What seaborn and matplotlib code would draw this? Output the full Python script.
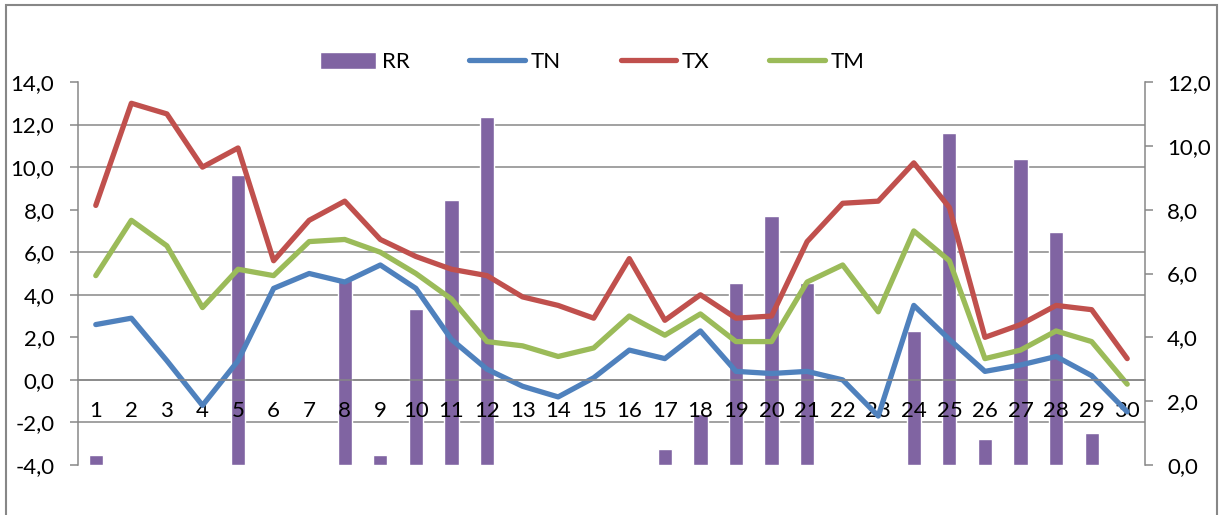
import numpy as np
import pandas as pd
import seaborn as sns
import matplotlib.pyplot as plt
from matplotlib.ticker import FuncFormatter, FixedLocator
from matplotlib.patches import Rectangle

# daily data
days = list(range(1, 31))
RR = [0.3, 0, 0, 0, 9.1, 0, 0, 5.8, 0.3, 4.9, 8.3, 10.9, 0, 0, 0,
      0, 0.5, 1.6, 5.7, 7.8, 5.7, 0, 0, 4.2, 10.4, 0.8, 9.6, 7.3, 1.0, 0]
TN = [2.6, 2.9, 0.9, -1.2, 0.9, 4.3, 5.0, 4.6, 5.4, 4.3, 1.9, 0.5, -0.3, -0.8, 0.1,
      1.4, 1.0, 2.3, 0.4, 0.3, 0.4, 0.0, -1.7, 3.5, 1.9, 0.4, 0.7, 1.1, 0.2, -1.5]
TX = [8.2, 13.0, 12.5, 10.0, 10.9, 5.6, 7.5, 8.4, 6.6, 5.8, 5.2, 4.9, 3.9, 3.5, 2.9,
      5.7, 2.8, 4.0, 2.9, 3.0, 6.5, 8.3, 8.4, 10.2, 8.1, 2.0, 2.6, 3.5, 3.3, 1.0]
TM = [4.9, 7.5, 6.3, 3.4, 5.2, 4.9, 6.5, 6.6, 6.0, 5.0, 3.8, 1.8, 1.6, 1.1, 1.5,
      3.0, 2.1, 3.1, 1.8, 1.8, 4.6, 5.4, 3.2, 7.0, 5.6, 1.0, 1.4, 2.3, 1.8, -0.2]

left_ticks = np.arange(-4, 15, 2)
right_ticks = np.arange(0, 13, 2)

df = pd.DataFrame({'day': days, 'RR': RR, 'TN': TN, 'TX': TX, 'TM': TM})

sns.set_style('white')
plt.rcParams['font.family'] = ['Lato', 'DejaVu Sans']
plt.rcParams['font.size'] = 16
plt.rcParams['text.color'] = 'black'

gray = '#878787'
fs = 16
fig = plt.figure(figsize=(12.19, 5.15), dpi=100)
ax = fig.add_axes([78/1219, 1-465/515, (1145-78)/1219, (465-82)/515])
ax2 = ax.twinx()
ax.set_zorder(2)
ax.patch.set_visible(False)
ax2.set_zorder(1)

# rain bars on right axis
sns.barplot(data=df, x='day', y='RR', ax=ax2, native_scale=True, width=0.4,
            color='#8064A2', saturation=1, label='RR', zorder=2)
ax2.set_ylim(0, 12)
ax2.set_yticks(right_ticks)
# gridlines at the left-axis ticks, drawn below the bars
ax2.yaxis.set_minor_locator(FixedLocator((left_ticks + 4) * 12 / 18))
ax2.tick_params(axis='y', which='minor', length=0)
ax2.grid(axis='y', which='minor', color=gray, lw=1.1)
ax2.set_axisbelow(True)

# temperature lines on left axis
for col, c in [('TN', '#4F81BD'), ('TX', '#C0504D'), ('TM', '#9BBB59')]:
    sns.lineplot(data=df, x='day', y=col, ax=ax, color=c, lw=3.8, label=col,
                 solid_capstyle='round')
ax.set_ylim(-4, 14)
ax.set_yticks(left_ticks)
ax.set_xlim(0.5, 30.5)
ax2.set_xlim(0.5, 30.5)

fmt = FuncFormatter(lambda v, p: f'{v:.1f}'.replace('.', ','))
ax.yaxis.set_major_formatter(fmt)
ax2.yaxis.set_major_formatter(fmt)

ax.set_xticks(days)
ax.set_xticklabels([str(d) for d in days])
ax.xaxis.set_minor_locator(FixedLocator(np.arange(1.5, 30.5, 1)))
ax.tick_params(axis='x', which='major', length=0, pad=15, labelsize=fs, labelcolor='black')
ax.tick_params(axis='x', which='minor', length=7, width=1.1, color=gray, direction='out')
ax.tick_params(axis='y', length=6, width=1.1, color=gray, direction='out', pad=11,
               labelsize=fs, labelcolor='black')
ax2.tick_params(axis='y', which='major', length=6, width=1.1, color=gray, direction='out',
                pad=10, labelsize=fs, labelcolor='black')
ax2.tick_params(axis='x', length=0, labelbottom=False)

ax.set_xlabel('')
ax.set_ylabel('')
ax2.set_xlabel('')
ax2.set_ylabel('')

for a in (ax, ax2):
    for s in a.spines.values():
        s.set_color(gray)
        s.set_linewidth(1.1)
    a.spines['top'].set_visible(False)
ax.spines['bottom'].set_position(('data', 0))
ax.spines['right'].set_visible(False)
ax2.spines['left'].set_visible(False)
ax2.spines['bottom'].set_visible(False)

# legend across the top
h1, l1 = ax2.get_legend_handles_labels()
h2, l2 = ax.get_legend_handles_labels()
if ax.get_legend():
    ax.get_legend().remove()
if ax2.get_legend():
    ax2.get_legend().remove()
fig.legend(h1 + h2, l1 + l2, loc='center', bbox_to_anchor=(0.486, 1-62/515), ncol=4,
           frameon=False, fontsize=fs, handlelength=2.5, handletextpad=0.25,
           columnspacing=2.7, handleheight=0.8)

# outer chart frame
fig.patches.append(Rectangle((6/1219, -0.1), (1217-6)/1219, 1.1-5/515,
                             transform=fig.transFigure, fill=False,
                             edgecolor=gray, lw=1.5))

fig.savefig('out.png', dpi=100)
